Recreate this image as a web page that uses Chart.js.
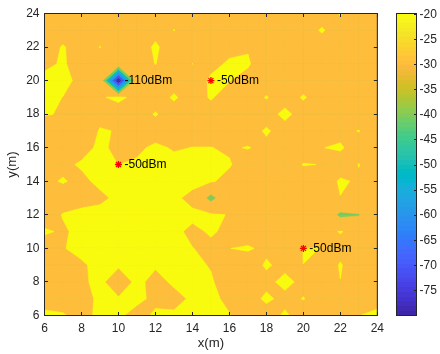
<!DOCTYPE html>
<html><head><meta charset="utf-8">
<script src="https://cdn.jsdelivr.net/npm/chart.js@4/dist/chart.umd.min.js"></script>
<style>
html,body{margin:0;padding:0;background:#fff;}
#wrap{position:relative;width:440px;height:354px;overflow:hidden;}
#main{position:absolute;left:0;top:0;}
#cb{position:absolute;left:390px;top:0;}
</style></head><body>
<div id="wrap"><canvas id="main" width="390" height="354"></canvas><canvas id="cb" width="50" height="354"></canvas></div>
<script>
// ---------- data ----------
const gridX = [6,7,8,9,10,11,12,13,14,15,16,17,18,19,20,21,22,23,24];
const gridY = [24,23,22,21,20,19,18,17,16,15,14,13,12,11,10,9,8,7,6];
// received power (dBm) per grid row, x = 6..24
const row24 = [-22.5,-22.5,-22.5,-22.5,-22.5,-22.5,-22.5,-22.5,-22.5,-22.5,-22.5,-22.5,-22.5,-22.5,-22.5,-22.5,-19.6,-22.5,-22.5];
const row23 = [-22.5,-22.5,-22.5,-22.5,-22.5,-22.5,-22.5,-19.9,-22.5,-22.5,-22.5,-22.5,-22.5,-22.5,-22.5,-19.5,-22.5,-22.5,-22.5];
const row22 = [-22.5,-19.6,-22.5,-19.9,-22.5,-24.5,-18.8,-24.5,-22.5,-22.5,-22.5,-20.6,-22.5,-22.5,-22.5,-22.5,-22.5,-22.5,-22.5];
const row21 = [-21.2,-19.4,-22.5,-22.5,-21.5,-22.5,-19.9,-22.5,-19.95,-22.5,-18.8,-19.2,-24.5,-22.5,-22.5,-22.5,-22.5,-22.5,-22.5];
const row20 = [-18.5,-18.5,-21.5,-21.5,-80,-21.5,-22.5,-22.5,-26,-18.5,-19.8,-22.5,-22.5,-22.5,-22.5,-22.5,-22.5,-22.5,-22.5];
const row19 = [-18.5,-20.1,-22.5,-20.74,-18.5,-22,-22.5,-19.3,-22.5,-19.5,-22.5,-22.5,-19.7,-22.5,-19.5,-22.5,-22.5,-22.5,-22.5];
const row18 = [-19.2,-20.9,-22.5,-22.5,-23.5,-22.5,-19.6,-22.5,-22.5,-22.5,-22.5,-22.5,-22.5,-18.5,-22.5,-22.5,-22.5,-22.5,-22.5];
const row17 = [-27,-22.5,-26,-19.4,-20.4,-22.5,-22.5,-22.5,-22.5,-22.5,-22.5,-22.5,-19.3,-22.5,-22.5,-22.5,-21.2,-19.85,-22.5];
const row16 = [-22.5,-22.5,-21.5,-19.2,-21,-21,-19,-20.5,-19.9,-19.9,-20.6,-19.75,-21.5,-22.5,-22.5,-20.1,-19.5,-22,-22.5];
const row15 = [-22.5,-20.9,-19.5,-19,-20.05,-19.3,-18.5,-18.5,-18.5,-18.5,-19.6,-22.5,-22.5,-22.5,-19.8,-20.1,-22,-19.9,-22.5];
const row14 = [-20.8,-19.7,-21,-19,-18.5,-18.5,-18.5,-18.5,-18.5,-19.5,-21.5,-22.5,-22.5,-22.5,-22.5,-22.5,-19.5,-20.5,-22.5];
const row13 = [-22,-22,-21.5,-21,-19,-18.5,-18.5,-19,-21.5,-33,-22.5,-22.5,-22.5,-22.5,-22.5,-22.5,-20.1,-22.5,-22.5];
const row12 = [-22,-19.8,-19,-18.5,-18.5,-18.5,-18.5,-18.5,-19,-19,-20.3,-22.5,-22.5,-22.5,-22.5,-22.5,-32,-30.5,-22.5];
const row11 = [-19.5,-20.5,-19,-18.5,-18.5,-18.5,-18.5,-19,-21,-19.5,-21,-22.5,-22.5,-22.5,-23,-22.5,-19.6,-22.5,-22.5];
const row10 = [-22,-20.2,-19,-18.5,-18.5,-18.5,-18.5,-19,-19.9,-21,-20.05,-19.5,-21,-23,-19.9,-20.02,-22.5,-22.5,-22.5];
const row9  = [-22,-21.5,-20.5,-19,-19.2,-18.5,-19.3,-19,-19,-20.3,-22.5,-22.5,-19.4,-21.5,-20.01,-25,-19.4,-25,-22.5];
const row8  = [-22,-22,-21,-18.5,-24,-18.5,-22,-19,-18.5,-19.5,-22.5,-22.5,-21.5,-18.5,-21.5,-22.5,-20.15,-22.5,-22.5];
const row7  = [-22,-22,-22,-19,-19.5,-19,-21,-22,-19,-19,-21,-22.5,-19,-21.5,-19.8,-22.5,-22.5,-22.5,-20.8];
const row6  = [-19,-19.6,-21.5,-19,-19.3,-21.5,-19.3,-19,-19,-19,-19.8,-22.5,-22.5,-19.2,-22.5,-22.5,-22.5,-20.05,-19.5];
const rssi = [row24,row23,row22,row21,row20,row19,row18,row17,row16,row15,row14,row13,row12,row11,row10,row9,row8,row7,row6];

const levels = [-80,-70,-60,-50,-40,-30,-20];
const srcX = [15,10,20];
const srcY = [20,15,10];
const noteX = [10,15,10,20];
const noteY = [20,20,15,10];
const noteText = ['-110dBm','-50dBm','-50dBm','-50dBm'];
const xTicks = [6,8,10,12,14,16,18,20,22,24];
const yTicks = [6,8,10,12,14,16,18,20,22,24];
const cbTicks = [-75,-70,-65,-60,-55,-50,-45,-40,-35,-30,-25,-20];
const cbMin = -80, cbMax = -19.8;

// ---------- style ----------
const parula = [
[0.2422,0.1504,0.6603],[0.2504,0.1650,0.7076],[0.2578,0.1818,0.7511],[0.2647,0.1978,0.7952],
[0.2706,0.2147,0.8364],[0.2751,0.2342,0.8710],[0.2783,0.2559,0.8991],[0.2803,0.2782,0.9221],
[0.2813,0.3006,0.9414],[0.2810,0.3228,0.9579],[0.2795,0.3447,0.9717],[0.2760,0.3667,0.9829],
[0.2699,0.3892,0.9906],[0.2602,0.4123,0.9952],[0.2440,0.4358,0.9988],[0.2206,0.4603,0.9973],
[0.1963,0.4847,0.9892],[0.1834,0.5074,0.9798],[0.1786,0.5289,0.9682],[0.1764,0.5499,0.9520],
[0.1687,0.5703,0.9359],[0.1540,0.5902,0.9218],[0.1460,0.6091,0.9079],[0.1380,0.6276,0.8973],
[0.1248,0.6459,0.8883],[0.1113,0.6635,0.8763],[0.0952,0.6798,0.8598],[0.0689,0.6948,0.8394],
[0.0297,0.7082,0.8163],[0.0036,0.7203,0.7917],[0.0067,0.7312,0.7660],[0.0433,0.7411,0.7394],
[0.0964,0.7500,0.7120],[0.1408,0.7584,0.6842],[0.1717,0.7670,0.6554],[0.1938,0.7758,0.6251],
[0.2161,0.7843,0.5923],[0.2470,0.7918,0.5567],[0.2906,0.7973,0.5188],[0.3406,0.8008,0.4789],
[0.3909,0.8029,0.4354],[0.4456,0.8024,0.3909],[0.5044,0.7993,0.3480],[0.5616,0.7942,0.3045],
[0.6174,0.7876,0.2612],[0.6720,0.7793,0.2227],[0.7242,0.7698,0.1910],[0.7738,0.7598,0.1646],
[0.8203,0.7498,0.1535],[0.8634,0.7406,0.1596],[0.9035,0.7330,0.1774],[0.9393,0.7288,0.2100],
[0.9728,0.7298,0.2394],[0.9956,0.7434,0.2371],[0.9970,0.7659,0.2199],[0.9952,0.7893,0.2028],
[0.9892,0.8136,0.1885],[0.9786,0.8386,0.1766],[0.9676,0.8639,0.1643],[0.9610,0.8890,0.1537],
[0.9597,0.9135,0.1423],[0.9628,0.9373,0.1265],[0.9691,0.9606,0.1064],[0.9763,0.9831,0.0538]];
function rgb(c){return 'rgb('+Math.round(c[0]*255)+','+Math.round(c[1]*255)+','+Math.round(c[2]*255)+')';}
function levelColor(L){
  let i = Math.floor((L-cbMin)/(cbMax-cbMin)*parula.length);
  i = Math.max(0, Math.min(parula.length-1, i));
  return rgb(parula[i]);
}
const FONT = "'Liberation Sans', Arial, Helvetica, sans-serif";
const AXC = '#262626';
const tickLen = 3.5;

// polygons of {z >= L} inside one grid cell (marching squares, saddle by cell mean)
function cellPolys(c, r, L){
  const corners = [[c,r],[c+1,r],[c+1,r+1],[c,r+1]];
  const zs = corners.map(p=>rssi[p[1]][p[0]]);
  const ins = zs.map(z=>z>=L);
  const pt = i=>[gridX[corners[i][0]], gridY[corners[i][1]]];
  const cross = (i,j)=>{
    const t = (L-zs[i])/(zs[j]-zs[i]), a = pt(i), b = pt(j);
    return [a[0]+t*(b[0]-a[0]), a[1]+t*(b[1]-a[1])];
  };
  const saddle = ins[0]===ins[2] && ins[1]===ins[3] && ins[0]!==ins[1];
  const mean = (zs[0]+zs[1]+zs[2]+zs[3])/4;
  if (saddle && mean < L){
    const out = [];
    for (let i=0;i<4;i++){
      if (!ins[i]) continue;
      const p = (i+3)%4, n = (i+1)%4;
      out.push([cross(p,i), pt(i), cross(i,n)]);
    }
    return out;
  }
  const poly = [];
  for (let i=0;i<4;i++){
    const j = (i+1)%4;
    if (ins[i]) poly.push(pt(i));
    if (ins[i]!==ins[j]) poly.push(cross(i,j));
  }
  return poly.length>=3 ? [poly] : [];
}

// ---------- plugins ----------
const contourPlugin = {
  id:'contour',
  beforeDatasetsDraw(chart){
    const {ctx, chartArea:a} = chart, xs = chart.scales.x, ys = chart.scales.y;
    ctx.save();
    ctx.beginPath(); ctx.rect(a.left,a.top,a.right-a.left,a.bottom-a.top); ctx.clip();
    ctx.lineJoin = 'round';
    ctx.lineWidth = 0.6;
    for (const L of levels){
      const col = levelColor(L);
      ctx.fillStyle = col; ctx.strokeStyle = col;
      for (let r=0;r<gridY.length-1;r++){
        for (let c=0;c<gridX.length-1;c++){
          cellPolys(c,r,L).forEach(poly=>{
            ctx.beginPath();
            poly.forEach((p,k)=>{
              const px = xs.getPixelForValue(p[0]), py = ys.getPixelForValue(p[1]);
              if (k) ctx.lineTo(px,py); else ctx.moveTo(px,py);
            });
            ctx.closePath();
            ctx.fill();
            ctx.stroke();
          });
        }
      }
    }
    ctx.restore();
  },
  afterDatasetsDraw(chart){
    const {ctx} = chart, xs = chart.scales.x, ys = chart.scales.y;
    ctx.save();
    ctx.font = '12px ' + FONT;
    ctx.fillStyle = '#000';
    ctx.textAlign = 'left';
    ctx.textBaseline = 'middle';
    noteText.forEach((t,i)=>{
      ctx.fillText(t, xs.getPixelForValue(noteX[i]) + 6, ys.getPixelForValue(noteY[i]) + 0.5);
    });
    ctx.restore();
  },
  afterDraw(chart){
    const {ctx, chartArea:a} = chart, xs = chart.scales.x, ys = chart.scales.y;
    ctx.save();
    ctx.strokeStyle = AXC; ctx.lineWidth = 1;
    ctx.beginPath();
    xTicks.forEach(v=>{
      const p = Math.round(xs.getPixelForValue(v)-0.5)+0.5;
      ctx.moveTo(p,a.bottom); ctx.lineTo(p,a.bottom-tickLen);
      ctx.moveTo(p,a.top); ctx.lineTo(p,a.top+tickLen);
    });
    yTicks.forEach(v=>{
      const p = Math.round(ys.getPixelForValue(v)-0.5)+0.5;
      ctx.moveTo(a.left,p); ctx.lineTo(a.left+tickLen,p);
      ctx.moveTo(a.right,p); ctx.lineTo(a.right-tickLen,p);
    });
    ctx.stroke();
    ctx.strokeRect(a.left,a.top,a.right-a.left,a.bottom-a.top);
    ctx.restore();
  }
};

new Chart(document.getElementById('main'), {
  type:'scatter',
  data:{datasets:[{
    data: srcX.map((v,i)=>({x:v,y:srcY[i]})),
    pointStyle:'star', radius:3.5, borderWidth:1.3,
    borderColor:'#ff0000', backgroundColor:'#ff0000'
  }]},
  options:{
    responsive:false, animation:false, events:[],
    layout:{padding:{left:0,right:8.5,top:13.5,bottom:0}},
    plugins:{legend:{display:false}, tooltip:{enabled:false}},
    scales:{
      x:{type:'linear', min:6, max:24,
        afterBuildTicks:s=>{s.ticks = xTicks.map(v=>({value:v}));},
        afterFit:s=>{s.height = 38.5;},
        grid:{display:false, drawTicks:false}, border:{display:false},
        ticks:{padding:6, autoSkip:false, maxRotation:0, color:AXC, font:{family:FONT,size:12}},
        title:{display:true, text:'x(m)', color:AXC, font:{family:FONT,size:13.2}, padding:{top:0,bottom:3}}
      },
      y:{type:'linear', min:6, max:24,
        afterBuildTicks:s=>{s.ticks = yTicks.map(v=>({value:v}));},
        afterFit:s=>{s.width = 44.5;},
        grid:{display:false, drawTicks:false}, border:{display:false},
        ticks:{padding:5, autoSkip:false, color:AXC, font:{family:FONT,size:12}},
        title:{display:true, text:'y(m)', color:AXC, font:{family:FONT,size:13.2}, padding:{top:4,bottom:0}}
      }
    }
  },
  plugins:[contourPlugin]
});

// ---------- colorbar ----------
function cbGradient(chart){
  const a = chart.chartArea;
  if (!a) return rgb(parula[32]);
  const ys = chart.scales.y;
  const y0 = ys.getPixelForValue(cbMin), y1 = ys.getPixelForValue(cbMax);
  const g = chart.ctx.createLinearGradient(0,y0,0,y1);
  const n = parula.length;
  parula.forEach((c,i)=>{
    g.addColorStop(i/n, rgb(c));
    g.addColorStop((i+1)/n - 1e-6, rgb(c));
  });
  return g;
}
const cbFrame = {
  id:'cbFrame',
  afterDraw(chart){
    const {ctx, chartArea:a} = chart, ys = chart.scales.y;
    ctx.save();
    ctx.strokeStyle = AXC; ctx.lineWidth = 1;
    ctx.beginPath();
    cbTicks.forEach(v=>{
      const p = Math.round(ys.getPixelForValue(v)-0.5)+0.5;
      ctx.moveTo(a.right,p); ctx.lineTo(a.right-2.5,p);
    });
    ctx.stroke();
    ctx.strokeRect(a.left,a.top,a.right-a.left,a.bottom-a.top);
    ctx.restore();
  }
};
new Chart(document.getElementById('cb'), {
  type:'bar',
  data:{labels:['dBm'], datasets:[{
    data:[[cbMin,cbMax]],
    backgroundColor: c=>cbGradient(c.chart),
    borderWidth:0, barPercentage:1, categoryPercentage:1
  }]},
  options:{
    responsive:false, animation:false, events:[],
    layout:{padding:{left:6.5,right:0,top:13.5,bottom:38.5}},
    plugins:{legend:{display:false}, tooltip:{enabled:false}},
    scales:{
      x:{display:false},
      y:{position:'right', min:cbMin, max:cbMax,
        afterBuildTicks:s=>{s.ticks = cbTicks.map(v=>({value:v}));},
        afterFit:s=>{s.width = 23.5;},
        grid:{display:false, drawTicks:false}, border:{display:false},
        ticks:{padding:3, autoSkip:false, color:AXC, font:{family:FONT,size:12}}
      }
    }
  },
  plugins:[cbFrame]
});
</script>
</body></html>
